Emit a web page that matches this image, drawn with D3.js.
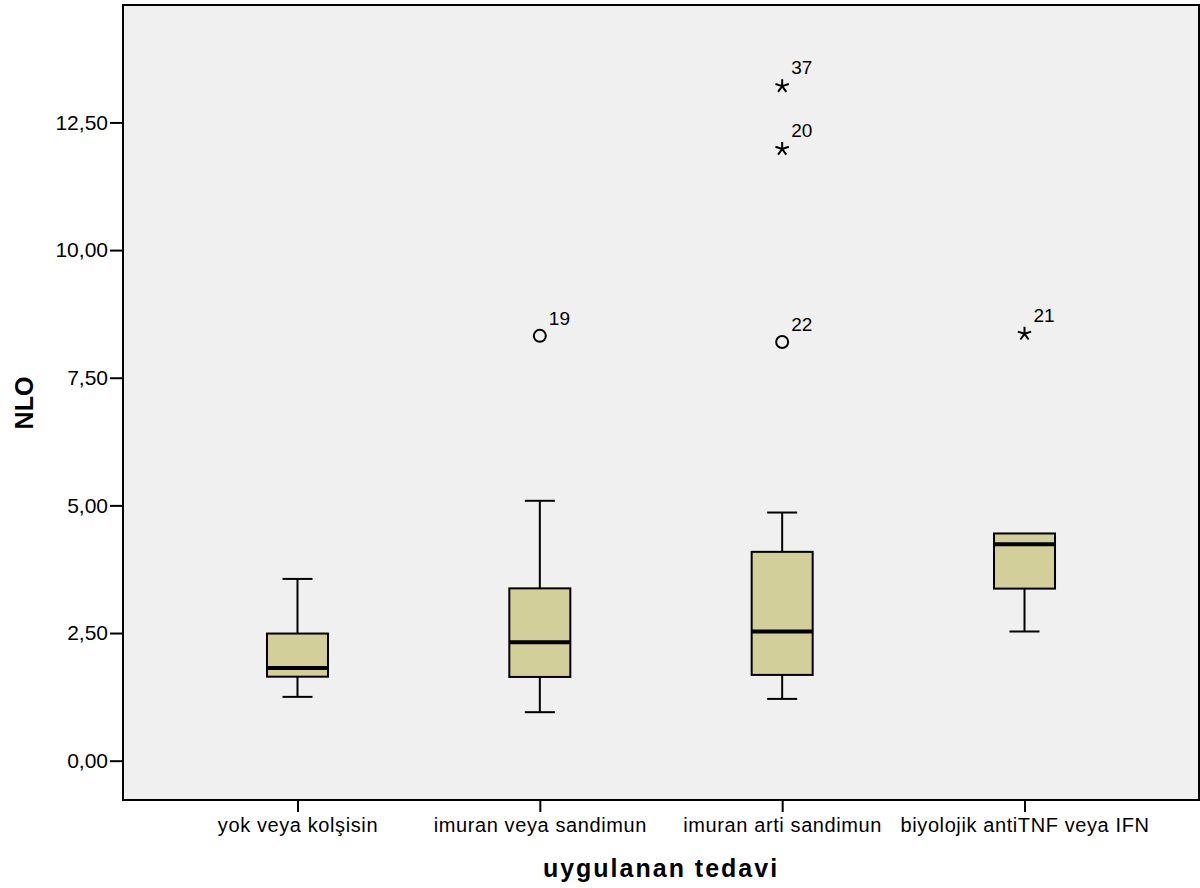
<!DOCTYPE html>
<html>
<head>
<meta charset="utf-8">
<script src="https://cdn.jsdelivr.net/npm/d3@7"></script>
<style>
  body { margin: 0; background: #fff; }
  svg { font-family: "Liberation Sans", Arial, sans-serif; }
</style>
</head>
<body>
<svg width="1200" height="888"></svg>
<script>
// box plot values
const categories = ['yok veya kolşisin', 'imuran veya sandimun', 'imuran arti sandimun', 'biyolojik antiTNF veya IFN']
const lowWhisker = [1.25, 0.95, 1.21, 2.53]
const q1 = [1.645, 1.64, 1.68, 3.37]
const median = [1.815, 2.32, 2.53, 4.24]
const q3 = [2.49, 3.375, 4.09, 4.45]
const highWhisker = [3.56, 5.09, 4.86, 4.45]

const outlierCat = [1, 2, 2, 2, 3]
const outlierVal = [8.32, 13.23, 12.0, 8.2, 8.38]
const outlierId = ['19', '37', '20', '22', '21']
const outlierType = ['circle', 'star', 'star', 'circle', 'star']

const yTicks = [0, 2.5, 5, 7.5, 10, 12.5]

document.addEventListener('DOMContentLoaded', () => {
    const svg = d3.select('svg')
    const plot = {left: 123, right: 1199, top: 5, bottom: 800}

    const yScale = d3.scaleLinear()
        .domain([-0.77, 14.8])
        .range([plot.bottom, plot.top])
    const xScale = d3.scalePoint()
        .domain(categories)
        .range([plot.left, plot.right])
        .padding(0.72)

    const fmt = v => d3.format('.2f')(v).replace('.', ',')

    // plot background
    svg.append('rect')
        .attr('x', plot.left).attr('y', plot.top)
        .attr('width', plot.right - plot.left).attr('height', plot.bottom - plot.top)
        .attr('fill', '#f0f0f0')

    // y axis
    const yAxis = svg.append('g')
        .attr('transform', `translate(${plot.left},0)`)
        .call(d3.axisLeft(yScale).tickValues(yTicks).tickFormat(fmt).tickSize(13).tickPadding(2))
    yAxis.select('.domain').remove()
    yAxis.selectAll('line').attr('stroke', '#000').attr('stroke-width', 2)
    yAxis.selectAll('text').attr('font-size', 21).attr('fill', '#000')
        .attr('font-family', '"Liberation Sans", Arial, sans-serif')

    // x axis
    const xAxis = svg.append('g')
        .attr('transform', `translate(0,${plot.bottom})`)
        .call(d3.axisBottom(xScale).tickSize(12).tickPadding(6))
    xAxis.select('.domain').remove()
    xAxis.selectAll('line').attr('stroke', '#000').attr('stroke-width', 2)
    xAxis.selectAll('text').attr('font-size', 20).attr('fill', '#000')
        .attr('letter-spacing', 0.6)
        .attr('font-family', '"Liberation Sans", Arial, sans-serif')

    const boxW = 61
    const capW = 30
    const g = svg.append('g')

    categories.forEach((c, i) => {
        const cx = xScale(c)
        // whiskers
        g.append('line')
            .attr('x1', cx).attr('x2', cx)
            .attr('y1', yScale(q3[i])).attr('y2', yScale(highWhisker[i]))
            .attr('stroke', '#000').attr('stroke-width', 2)
        g.append('line')
            .attr('x1', cx).attr('x2', cx)
            .attr('y1', yScale(q1[i])).attr('y2', yScale(lowWhisker[i]))
            .attr('stroke', '#000').attr('stroke-width', 2)
        if (highWhisker[i] > q3[i]) {
            g.append('line')
                .attr('x1', cx - capW / 2).attr('x2', cx + capW / 2)
                .attr('y1', yScale(highWhisker[i])).attr('y2', yScale(highWhisker[i]))
                .attr('stroke', '#000').attr('stroke-width', 2)
        }
        g.append('line')
            .attr('x1', cx - capW / 2).attr('x2', cx + capW / 2)
            .attr('y1', yScale(lowWhisker[i])).attr('y2', yScale(lowWhisker[i]))
            .attr('stroke', '#000').attr('stroke-width', 2)
        // box
        g.append('rect')
            .attr('x', cx - boxW / 2).attr('width', boxW)
            .attr('y', yScale(q3[i])).attr('height', yScale(q1[i]) - yScale(q3[i]))
            .attr('fill', '#d3cf9a')
            .attr('stroke', '#000').attr('stroke-width', 2)
        // median
        g.append('line')
            .attr('x1', cx - boxW / 2).attr('x2', cx + boxW / 2)
            .attr('y1', yScale(median[i])).attr('y2', yScale(median[i]))
            .attr('stroke', '#000').attr('stroke-width', 4)
    })

    // star path (5 arms, like SPSS extreme marker)
    const starR = 7
    let starPath = ''
    for (let k = 0; k < 5; k++) {
        const a = (-90 + k * 72) * Math.PI / 180
        starPath += `M0,0L${(starR * Math.cos(a)).toFixed(2)},${(starR * Math.sin(a)).toFixed(2)}`
    }

    outlierVal.forEach((v, j) => {
        const cx = xScale(categories[outlierCat[j]])
        const cy = yScale(v)
        if (outlierType[j] === 'circle') {
            g.append('circle')
                .attr('cx', cx).attr('cy', cy).attr('r', 6)
                .attr('fill', 'none').attr('stroke', '#000').attr('stroke-width', 2)
        } else {
            g.append('path')
                .attr('d', starPath)
                .attr('transform', `translate(${cx},${cy + 1})`)
                .attr('fill', 'none').attr('stroke', '#000').attr('stroke-width', 2)
        }
        g.append('text')
            .attr('x', cx + 9).attr('y', cy - 11)
            .attr('font-size', 19)
            .text(outlierId[j])
    })

    // frame
    svg.append('rect')
        .attr('x', plot.left).attr('y', plot.top)
        .attr('width', plot.right - plot.left).attr('height', plot.bottom - plot.top)
        .attr('fill', 'none').attr('stroke', '#000').attr('stroke-width', 2)

    // axis titles
    svg.append('text')
        .attr('x', 661).attr('y', 877)
        .attr('text-anchor', 'middle')
        .attr('font-size', 25).attr('font-weight', 'bold')
        .attr('letter-spacing', 2)
        .text('uygulanan tedavi')
    svg.append('text')
        .attr('transform', 'translate(33,403) rotate(-90)')
        .attr('text-anchor', 'middle')
        .attr('font-size', 25).attr('font-weight', 'bold')
        .text('NLO')
})
</script>
</body>
</html>
